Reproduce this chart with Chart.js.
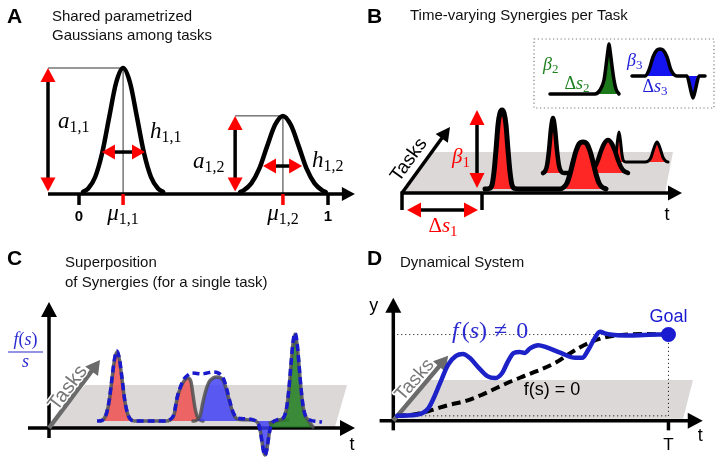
<!DOCTYPE html>
<html><head><meta charset="utf-8">
<script src="https://cdn.jsdelivr.net/npm/chart.js@4.4.1/dist/chart.umd.min.js"></script>
<style>
html,body{margin:0;padding:0;background:#fff;}
#wrap{position:relative;width:721px;height:463px;overflow:hidden;background:#fff;}
canvas{position:absolute;left:0;top:0;}
</style></head><body>
<div id="wrap">
<canvas id="cA" width="721" height="463"></canvas>
<canvas id="cB" width="721" height="463"></canvas>
<canvas id="cC" width="721" height="463"></canvas>
<canvas id="cD" width="721" height="463"></canvas>
</div>
<script>
// ---------------- DATA ----------------
// Panel A : two shared Gaussians (x in phase 0..1, y amplitude)
const aCurve1X = [0.016,0.037,0.065,0.093,0.121,0.149,0.177,0.205,0.233,0.261,0.289,0.317,0.338];
const aCurve1Y = [0.016,0.044,0.135,0.325,0.607,0.883,1.000,0.883,0.607,0.325,0.135,0.044,0.016];
const aCurve2X = [0.647,0.660,0.692,0.724,0.755,0.787,0.819,0.851,0.883,0.914,0.946,0.978,0.991];
const aCurve2Y = [0.016,0.027,0.084,0.201,0.376,0.547,0.620,0.547,0.376,0.201,0.084,0.027,0.016];
const aTickValues = [0, 1];
const aTickLabels = ['0', '1'];
const aMu = [0.177, 0.819];

// Panel B : time-varying synergy for three tasks + inset synergies
const bRow1X = [8.3,8.7,9.0,9.2,9.4,9.6,9.8,10.0,10.2,10.4,10.6,10.8,11.0,11.3,11.7,15.8,16.2,16.5,16.8,17.1,17.4,17.7,18.1,18.5,18.8,19.1,19.4,19.7,20.0,20.4];
const bRow1Y = [0.4,0.45,0.8,2.1,4.3,6.8,8.0,8.3,8.0,6.8,4.3,2.1,0.8,0.45,0.4,0.4,0.6,1.0,1.9,3.1,4.2,4.9,5.1,4.9,4.2,3.1,1.9,1.0,0.6,0.4];
const bRow2X = [14.1,14.3,14.5,14.7,14.9,15.1,15.3,15.5,15.7,15.9,16.2,18.6,19.0,19.3,19.6,19.9,20.2,20.6,21.0,21.3,21.6,21.9,22.2,22.6];
const bRow2Y = [2.0,2.16,2.74,4.25,6.4,7.5,6.4,4.25,2.74,2.16,2.0,2.0,2.2,2.6,3.3,4.2,4.9,5.3,4.9,4.2,3.3,2.6,2.2,2.0];
const bRow3X = [21.0,21.25,21.4,21.55,21.7,21.85,22.0,22.15,22.4,24.3,24.6,24.9,25.2,25.5,25.8,26.1,26.4,26.6];
const bRow3Y = [3.1,3.23,3.85,5.2,6.1,5.2,3.85,3.23,3.1,3.1,3.17,3.56,4.5,5.1,4.5,3.56,3.17,3.1];
const bGreenX = [14.8,19.3,19.8,20.2,20.4,20.6,20.7,20.8,21.0,21.2,21.4,21.7];
const bGreenY = [9.9,9.9,10.3,11.3,12.7,14.3,14.9,14.3,12.7,11.3,10.4,9.9];
const bBlueX = [23.0,24.3,24.7,25.1,25.5,25.8,26.1,26.5,26.9,27.5,28.5,28.8,29.1,29.4,29.7,30.3];
const bBlueY = [11.7,11.7,12.3,13.6,14.3,14.4,14.3,13.6,12.3,11.7,11.7,10.6,9.5,10.6,11.7,11.7];
const bBaselines = [0.4, 2.0, 3.1];

// Panel C : superposition of synergies for one task
const cRedX = [5.1,5.3,5.55,5.8,6.05,6.3,6.55,6.8,7.05,7.3,7.55,7.8,8.05,8.3,8.6,11.7,12.1,12.5,12.8,13.1,13.5,13.9,14.2,14.4,14.6,14.8,15.1,15.4];
const cRedY = [0.7,0.78,1.0,1.63,2.9,4.9,6.8,7.6,6.8,4.9,2.9,1.63,1.0,0.78,0.7,0.7,0.8,1.3,2.9,3.9,4.7,5.0,4.6,3.3,2.0,1.2,0.8,0.7];
const cBlueX = [14.4,14.7,15.1,15.4,15.7,16.0,16.4,16.8,17.2,17.5,17.8,18.1,18.4,18.7,19.1,20.3,20.85,21.0,21.15,21.3,21.45,21.6,21.75,21.9,22.05,22.2,22.35,22.9,23.9];
const cBlueY = [0.7,0.75,1.2,2.6,3.8,4.6,5.0,5.1,5.0,4.6,3.6,2.5,1.5,1.0,0.85,0.8,0.55,0.24,-0.4,-1.4,-2.3,-2.7,-2.3,-1.4,-0.4,0.24,0.55,0.75,0.8];
const cGreenX = [22.1,23.0,23.4,23.6,23.8,24.0,24.2,24.4,24.6,24.8,25.0,25.2,25.4,25.6,25.8,26.4];
const cGreenY = [0.5,0.8,0.95,1.3,2.2,3.9,6.3,8.45,9.4,8.45,6.3,3.9,2.2,1.3,0.95,0.1];
const cSumX = [4.8,5.3,5.55,5.8,6.05,6.3,6.55,6.8,7.05,7.3,7.55,7.8,8.05,8.3,8.6,
  11.7,12.1,12.5,12.8,13.1,13.5,13.9,14.3,14.8,15.3,15.8,16.3,16.8,17.2,17.5,17.8,18.1,18.4,18.7,19.2,20.3,
  20.85,21.0,21.15,21.3,21.45,21.6,21.75,21.9,22.05,22.2,22.35,22.9,
  23.4,23.6,23.8,24.0,24.2,24.4,24.6,24.8,25.0,25.2,25.4,25.6,25.8,26.1,27.3];
const cSumY = [0.7,0.75,1.0,1.65,2.95,5.0,6.9,7.7,6.9,5.0,2.95,1.65,1.0,0.75,0.7,
  0.7,0.85,1.4,3.0,4.0,4.9,5.3,5.5,5.45,5.4,5.5,5.6,5.55,5.3,4.8,3.8,2.6,1.6,1.1,0.95,0.85,
  0.55,0.24,-0.4,-1.4,-2.3,-2.75,-2.3,-1.4,-0.4,0.24,0.55,0.85,
  1.0,1.35,2.25,4.0,6.4,8.6,9.5,8.6,6.4,4.0,2.25,1.35,1.0,0.8,0.6];

// Panel D : dynamical system trajectories
const dForcedX = [0.4,1.8,3.0,3.6,4.2,4.9,5.6,6.4,7.1,7.8,8.6,9.6,10.4,11.1,11.7,12.3,12.9,13.4,14.0,14.8,15.6,17.1,18.6,19.3,19.9,20.5,21.1,21.7,22.6,24.1,25.6,27.1,28.1];
const dForcedY = [0.5,0.55,0.8,1.3,2.5,4.2,5.8,6.7,6.9,6.5,5.6,4.6,4.4,4.9,6.1,7.0,7.1,7.0,7.5,7.8,7.6,7.0,6.5,6.5,7.3,8.4,9.2,9.0,8.85,8.8,8.85,8.9,8.9];
const dFreeX = [0.4,2.1,3.6,5.6,7.6,9.1,10.6,12.1,13.6,16.6,18.1,19.9,21.6,23.3,25.6,28.1];
const dFreeY = [0.5,0.65,1.0,1.6,2.1,2.7,3.4,4.1,4.7,6.0,7.0,8.0,8.6,8.85,8.95,8.9];
const dGoalX = [28.1];
const dGoalY = [8.9];

// ---------------- HELPERS ----------------
const SANS = '"Liberation Sans", Arial, Helvetica, sans-serif';
const SERIF = '"Liberation Serif", "Times New Roman", serif';
const MI = s => `italic ${s}px ${SERIF}`;
const MR = s => `${s}px ${SERIF}`;
const RED = '#ff0000';
const GRAYPLANE = '#dcd8d8';

function pts(xs, ys){ return xs.map((x,i)=>({x:x, y:ys[i]})); }
function ds(xs, ys, o){
  return Object.assign({data:pts(xs,ys), pointRadius:0, fill:false, borderColor:'#000', borderWidth:3,
    cubicInterpolationMode:'monotone', borderJoinStyle:'round', borderCapStyle:'round', clip:false}, o);
}
function P(chart){ const sx=chart.scales.x, sy=chart.scales.y;
  return {x:v=>sx.getPixelForValue(v), y:v=>sy.getPixelForValue(v)}; }

function head(ctx, px, py, ang, len, hw, color){
  ctx.save(); ctx.translate(px,py); ctx.rotate(ang);
  ctx.beginPath(); ctx.moveTo(0,0); ctx.lineTo(-len,hw); ctx.lineTo(-len,-hw); ctx.closePath();
  ctx.fillStyle=color; ctx.fill(); ctx.restore();
}
function arrow(ctx, p, x1,y1,x2,y2, o){
  o=o||{};
  const ax=p.x(x1), ay=p.y(y1), bx=p.x(x2), by=p.y(y2);
  const ang=Math.atan2(by-ay,bx-ax), L=o.len||12, W=o.hw||7;
  const c=Math.cos(ang), s=Math.sin(ang);
  let sx=ax, sy=ay, ex=bx, ey=by;
  if(o.start){ sx+=c*L*0.8; sy+=s*L*0.8; }
  if(o.end!==false){ ex-=c*L*0.8; ey-=s*L*0.8; }
  ctx.save(); ctx.strokeStyle=o.color||'#000'; ctx.lineWidth=o.width||3;
  ctx.beginPath(); ctx.moveTo(sx,sy); ctx.lineTo(ex,ey); ctx.stroke(); ctx.restore();
  const hc=o.head||o.color||'#000';
  if(o.end!==false) head(ctx,bx,by,ang,L,W,hc);
  if(o.start) head(ctx,ax,ay,ang+Math.PI,L,W,hc);
}
function seg(ctx,p,x1,y1,x2,y2,color,width,dash){
  ctx.save(); ctx.strokeStyle=color; ctx.lineWidth=width; ctx.setLineDash(dash||[]);
  ctx.beginPath(); ctx.moveTo(p.x(x1),p.y(y1)); ctx.lineTo(p.x(x2),p.y(y2)); ctx.stroke(); ctx.restore();
}
function poly(ctx,p,xy,color){
  ctx.save(); ctx.fillStyle=color; ctx.beginPath();
  xy.forEach((q,i)=>{ const X=p.x(q[0]), Y=p.y(q[1]); if(i) ctx.lineTo(X,Y); else ctx.moveTo(X,Y); });
  ctx.closePath(); ctx.fill(); ctx.restore();
}
function rich(ctx, px, py, segs, align, color){
  ctx.save(); ctx.fillStyle=color; ctx.textBaseline='alphabetic'; ctx.textAlign='left';
  let w=0; segs.forEach(s=>{ ctx.font=s[1]; w+=ctx.measureText(s[0]).width+(s[3]||0); });
  let x = align==='center' ? px-w/2 : (align==='right' ? px-w : px);
  segs.forEach(s=>{ ctx.font=s[1]; ctx.fillText(s[0], x, py+(s[2]||0)); x+=ctx.measureText(s[0]).width+(s[3]||0); });
  ctx.restore();
}
function text(ctx, s, px, py, font, color, align, base){
  ctx.save(); ctx.font=font; ctx.fillStyle=color; ctx.textAlign=align||'left'; ctx.textBaseline=base||'alphabetic';
  ctx.fillText(s, px, py); ctx.restore();
}
function rotText(ctx, s, px, py, deg, font, color, halo){
  ctx.save(); ctx.translate(px,py); ctx.rotate(deg*Math.PI/180);
  ctx.font=font; ctx.textAlign='center'; ctx.textBaseline='middle';
  if(halo){ ctx.strokeStyle=halo; ctx.lineWidth=3; ctx.lineJoin='round'; ctx.strokeText(s,0,0); }
  ctx.fillStyle=color; ctx.fillText(s,0,0); ctx.restore();
}
function panelTitle(ctx, letter, lx, ly, lines, tx, ty, gap){
  text(ctx, letter, lx, ly, `bold 21px ${SANS}`, '#000');
  lines.forEach((l,i)=>text(ctx, l, tx, ty+i*gap, `15px ${SANS}`, '#111'));
}

function mkChart(id, xr, yr, datasets, back, front){
  return new Chart(document.getElementById(id), {
    type:'line',
    data:{datasets:datasets},
    options:{
      responsive:false, animation:false, events:[],
      layout:{padding:0},
      plugins:{legend:{display:false}, tooltip:{enabled:false}, title:{display:false}},
      scales:{
        x:{type:'linear', display:false, min:xr[0], max:xr[1]},
        y:{type:'linear', display:false, min:yr[0], max:yr[1]}
      }
    },
    plugins:[{
      id:'decor'+id,
      beforeDatasetsDraw(chart){ const c=chart.ctx; c.save(); back(c,P(chart)); c.restore(); },
      afterDatasetsDraw(chart){ const c=chart.ctx; c.save(); front(c,P(chart)); c.restore(); }
    }]
  });
}

// ---------------- PANEL A ----------------
mkChart('cA', [-0.3173, 2.5783], [-2.1349, 1.5397], [
  ds(aCurve1X, aCurve1Y, {borderWidth:4.5, order:1}),
  ds(aCurve2X, aCurve2Y, {borderWidth:4.5, order:1})
], (ctx,p)=>{
  seg(ctx,p,-0.1245,1,aMu[0],1,'#333',1);
  seg(ctx,p,aMu[0],0,aMu[0],1,'#333',1);
  seg(ctx,p,0.627,aCurve2Y[6],aMu[1],aCurve2Y[6],'#333',1);
  seg(ctx,p,aMu[1],0,aMu[1],aCurve2Y[6],'#333',1);
}, (ctx,p)=>{
  arrow(ctx,p,-0.1245,0,1.108,0,{width:3.5,len:13,hw:7});
  aTickValues.forEach((v,i)=>{
    seg(ctx,p,v,0,v,-0.087,'#000',3.5);
    text(ctx,aTickLabels[i],p.x(v),p.y(-0.214),`bold 15px ${SANS}`,'#000','center');
  });
  aMu.forEach((m,i)=>{
    seg(ctx,p,m,0,m,-0.087,RED,3.5);
    rich(ctx,p.x(m),p.y(-0.206),[['μ',MI(23)],[i?'1,2':'1,1',MR(16),4]],'center','#000');
  });
  arrow(ctx,p,-0.1245,0.02,-0.1245,1,{start:true,width:3.5,head:RED,len:14,hw:7.5});
  arrow(ctx,p,0.627,0.02,0.627,aCurve2Y[6],{start:true,width:3.5,head:RED,len:14,hw:7.5});
  arrow(ctx,p,0.092,0.333,0.265,0.333,{start:true,width:3.5,head:RED,len:13,hw:7.5});
  arrow(ctx,p,0.739,0.222,0.896,0.222,{start:true,width:3.5,head:RED,len:13,hw:7.5});
  rich(ctx,p.x(-0.084),p.y(0.524),[['a',MI(23)],['1,1',MR(16),4]],'left','#000');
  rich(ctx,p.x(0.285),p.y(0.444),[['h',MI(23)],['1,1',MR(16),4]],'left','#000');
  rich(ctx,p.x(0.458),p.y(0.206),[['a',MI(23)],['1,2',MR(16),4]],'left','#000');
  rich(ctx,p.x(0.936),p.y(0.214),[['h',MI(23)],['1,2',MR(16),4]],'left','#000');
  panelTitle(ctx,'A',7,23,['Shared parametrized','Gaussians among tasks'],52,21,19);
});

// ---------------- PANEL B ----------------
mkChart('cB', [-40.2, 31.9], [-27.0, 19.3], [
  ds(bRow1X, bRow1Y, {borderWidth:5, backgroundColor:'#ff2626', fill:{value:bBaselines[0]}, order:1}),
  ds(bRow2X, bRow2Y, {borderWidth:4.5, backgroundColor:'#ff2626', fill:{value:bBaselines[1]}, order:2}),
  ds(bRow3X, bRow3Y, {borderWidth:3, backgroundColor:'#ff2626', fill:{value:bBaselines[2]}, order:3}),
  ds(bGreenX, bGreenY, {borderWidth:3.5, backgroundColor:'#1c7a1c', fill:{value:bGreenY[0]}, order:0}),
  ds(bBlueX, bBlueY, {borderWidth:3.5, backgroundColor:'#1414f0', fill:{value:bBlueY[0]}, order:0})
], (ctx,p)=>{
  poly(ctx,p,[[0,0],[26.3,0],[27.1,4.1],[3.0,4.1]],GRAYPLANE);
  arrow(ctx,p,0,0,28,0,{width:3.5,len:14,hw:7.5});
  arrow(ctx,p,0,0,4.8,6.6,{width:3.5,len:14,hw:7.5});
  seg(ctx,p,0,0.15,0,-1.7,'#000',3.5);
  seg(ctx,p,8.0,0,8.0,-1.7,'#000',3.5);
  rotText(ctx,'Tasks',p.x(0.7),p.y(3.3),-54,`19px ${SANS}`,'#000');
}, (ctx,p)=>{
  arrow(ctx,p,0.5,-1.7,7.6,-1.7,{start:true,width:3.5,head:RED,len:14,hw:7.5});
  arrow(ctx,p,7.5,0.5,7.5,8.3,{start:true,width:3.5,head:RED,len:15,hw:7.5});
  rich(ctx,p.x(5.0),p.y(3.0),[['β',MI(21)],['1',MR(15),4]],'left',RED);
  rich(ctx,p.x(4.1),p.y(-3.9),[['Δ',MR(21)],['s',MI(21)],['1',MR(15),4]],'center',RED);
  text(ctx,'t',p.x(26.5),p.y(-2.7),`18px ${SANS}`,'#000','center');
  // inset
  ctx.save(); ctx.strokeStyle='#777'; ctx.lineWidth=1.2; ctx.setLineDash([1.2,2.6]);
  ctx.strokeRect(p.x(13.2),p.y(15.4),p.x(31.2)-p.x(13.2),p.y(8.5)-p.y(15.4)); ctx.restore();
  rich(ctx,p.x(14.1),p.y(12.3),[['β',MI(18)],['2',MR(13),3]],'left','#1e801e');
  rich(ctx,p.x(17.5),p.y(10.4),[['Δ',MR(18)],['s',MI(18)],['2',MR(13),3]],'center','#1e801e');
  rich(ctx,p.x(22.5),p.y(12.7),[['β',MI(18)],['3',MR(13),3]],'left','#2020d8');
  rich(ctx,p.x(25.3),p.y(10.1),[['Δ',MR(18)],['s',MI(18)],['3',MR(13),3]],'center','#2020d8');
  panelTitle(ctx,'B',367,23,['Time-varying Synergies per Task'],410,20,19);
});

// ---------------- PANEL C ----------------
mkChart('cC', [-4.9, 67.2], [-3.5, 42.8], [
  ds(cRedX, cRedY, {borderWidth:3.5, borderColor:'rgba(80,80,80,0.85)', backgroundColor:'rgba(240,80,80,0.85)', fill:{value:0.7}, order:3}),
  ds(cBlueX, cBlueY, {borderWidth:3.5, borderColor:'rgba(80,80,80,0.85)', backgroundColor:'rgba(60,60,245,0.82)', fill:{value:0.7}, order:2}),
  ds(cGreenX, cGreenY, {borderWidth:3.5, borderColor:'rgba(80,80,80,0.85)', backgroundColor:'rgba(40,130,40,0.9)', fill:{value:0.05}, order:1}),
  ds(cSumX, cSumY, {borderWidth:3.5, borderColor:'#1a1acc', borderDash:[7,4], borderCapStyle:'butt', order:0})
], (ctx,p)=>{
  poly(ctx,p,[[0,0.1],[28.6,0.1],[29.8,4.3],[3.6,4.3]],GRAYPLANE);
  arrow(ctx,p,0,-1.0,0,12.6,{width:3.5,len:15,hw:8});
  arrow(ctx,p,-2.1,0,30.6,0,{width:3.5,len:15,hw:8});
  arrow(ctx,p,0,0,5.1,6.8,{width:4.5,color:'#6b6b6b',len:14,hw:8});
  rotText(ctx,'Tasks',p.x(1.9),p.y(4.0),-53,`20px ${SANS}`,'#777','#fff');
}, (ctx,p)=>{
  rich(ctx,p.x(-2.35),p.y(8.3),[['f',MI(18)],['(',MR(18)],['s',MI(18)],[')',MR(18)]],'center','#2a2ad0');
  seg(ctx,p,-4.1,7.6,-0.6,7.6,'#2a2ad0',1.2);
  rich(ctx,p.x(-2.35),p.y(6.1),[['s',MI(18)]],'center','#2a2ad0');
  text(ctx,'t',p.x(30.3),p.y(-2.2),`18px ${SANS}`,'#000','center');
  panelTitle(ctx,'C',7,265,['Superposition','of Synergies (for a single task)'],65,267,20);
});

// ---------------- PANEL D ----------------
mkChart('cD', [-39.4, 32.7], [-3.6, 42.7], [
  ds(dFreeX, dFreeY, {borderWidth:4, borderColor:'#000', borderDash:[9,5], borderCapStyle:'butt', order:2}),
  ds(dForcedX, dForcedY, {borderWidth:4.5, borderColor:'#1c22c8', order:1}),
  ds(dGoalX, dGoalY, {showLine:false, pointRadius:7.5, pointBackgroundColor:'#1a1ad0', pointBorderWidth:0, order:0})
], (ctx,p)=>{
  poly(ctx,p,[[0.1,0.2],[29.6,0.2],[30.6,4.2],[3.3,4.2]],GRAYPLANE);
  seg(ctx,p,0,dGoalY[0],dGoalX[0],dGoalY[0],'#000',1,[1,3]);
  seg(ctx,p,dGoalX[0],0.5,dGoalX[0],dGoalY[0],'#000',1,[1,3]);
  seg(ctx,p,0.4,0.5,dGoalX[0],0.5,'#000',1,[1,3]);
  arrow(ctx,p,0,-1.0,0,12.7,{width:3.5,len:15,hw:8});
  arrow(ctx,p,-1.4,0,31.6,0,{width:3.5,len:15,hw:8});
  seg(ctx,p,dGoalX[0],0,dGoalX[0],-1.0,'#000',3.5);
  arrow(ctx,p,0,0,5.6,6.7,{width:4.5,color:'#6b6b6b',len:14,hw:8});
  rotText(ctx,'Tasks',p.x(2.2),p.y(4.2),-49,`19px ${SANS}`,'#777','#fff');
}, (ctx,p)=>{
  text(ctx,'y',p.x(-2.0),p.y(11.3),`18px ${SANS}`,'#000','center');
  text(ctx,'t',p.x(31.35),p.y(-2.1),`18px ${SANS}`,'#000','center');
  text(ctx,'T',p.x(dGoalX[0]),p.y(-3.0),`17px ${SANS}`,'#000','center');
  text(ctx,'Goal',p.x(dGoalX[0]),p.y(10.2),`18px ${SANS}`,'#1a1ad0','center');
  rich(ctx,p.x(6.0),p.y(8.5),[['f',MI(24),0,3],['(',MR(24)],['s',MI(24)],[')',MR(24),0,7],['≠',MR(24),0,9],['0',MR(24)]],'left','#2a2ad0');
  text(ctx,'f(s) = 0',p.x(16.2),p.y(2.7),`18px ${SANS}`,'#000','center');
  panelTitle(ctx,'D',367,265,['Dynamical System'],400,267,19);
});
</script>
</body></html>
